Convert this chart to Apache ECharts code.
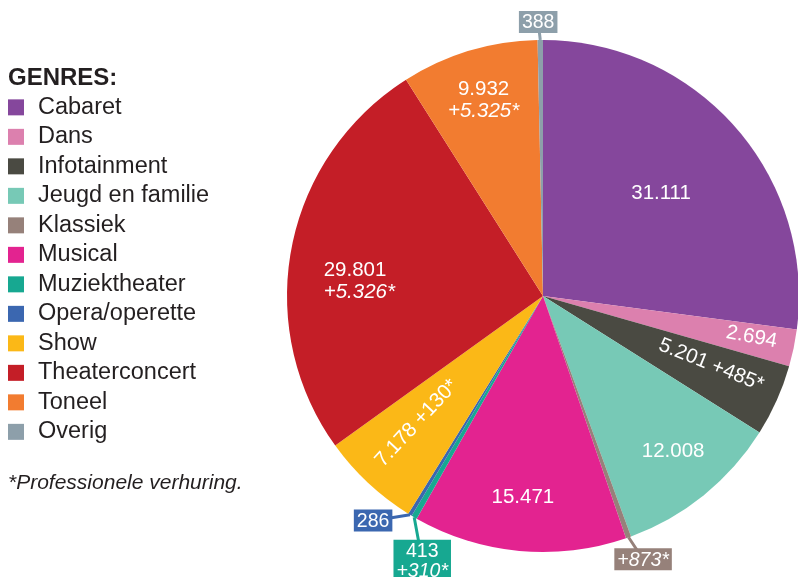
<!DOCTYPE html>
<html><head><meta charset="utf-8">
<script src="https://cdn.jsdelivr.net/npm/echarts@6/dist/echarts.min.js"></script>
<style>html,body{margin:0;padding:0;background:#fff}#c{width:798px;height:577px}</style>
</head><body><div id="c"></div>
<script>
// ---- data ----
const categories = ['Cabaret','Dans','Infotainment','Jeugd en familie','Klassiek','Musical','Muziektheater','Opera/operette','Show','Theaterconcert','Toneel','Overig'];
const visitors = [31111, 2694, 5201, 12008, 380, 15471, 413, 286, 7178, 29801, 9932, 388];
const rentals = [null, null, 485, null, 873, null, 310, null, 130, 5326, 5325, null];
const titleText = 'GENRES:';
const footnoteText = '*Professionele verhuring.';

// ---- styles ----
const colors = ['#85479c','#dc80ae','#4a4a42','#77c9b6','#96817a','#e32390','#17a891','#3b67b0','#fbb817','#c41e27','#f27c30','#8d9faa'];
const labelMode = ['value','value','inline','value','rental','value','stack','value','inline','stack','stack','value'];
const labelBoxed = [false,false,false,false,true,false,true,true,false,false,false,true];
const labelTextAlign = ['center','center','center','center','center','center','center','center','center','left','center','center'];
const labelRadius = [0.612,0.83,0.71,0.79,1.10,0.79,1.137,1.10,0.70,0.72,0.80,1.07];
const labelAngleShift = [0.15,-0.6,-1.8,-1.1,-1.3,0.4,-5.7,5.8,1.8,-6.3,-0.1,-0.4];
const labelRotate = [0,-11,-22,0,0,0,0,0,47,0,0,0];
const CX = 543, CY = 296, R = 256;
const FONT = "'Liberation Sans', Arial, Helvetica, sans-serif";

function fmt(v){ return String(v).replace(/\B(?=(\d{3})+(?!\d))/g, '.'); }

const total = visitors.reduce((a,b)=>a+b,0);
const midAngles = [];
let acc = 0;
visitors.forEach(v => { midAngles.push((acc + v/2) / total * 360); acc += v; });

function labelText(i){
  const m = labelMode[i];
  if (m === 'value') return '{v|' + fmt(visitors[i]) + '}';
  if (m === 'inline') return '{v|' + fmt(visitors[i]) + ' +' + fmt(rentals[i]) + '*}';
  if (m === 'stack') return '{v|' + fmt(visitors[i]) + '}\n{r|+' + fmt(rentals[i]) + '*}';
  return '{r|+' + fmt(rentals[i]) + '*}';
}

function richFor(size, align){
  return {
    v: { color: '#fff', fontSize: size, fontFamily: FONT, lineHeight: 22, align: align },
    r: { color: '#fff', fontSize: size, fontFamily: FONT, fontStyle: 'italic', lineHeight: 22, align: align }
  };
}

const data = categories.map((name, i) => {
  const item = { name: name, value: visitors[i], itemStyle: { color: colors[i] } };
  if (labelBoxed[i]) {
    item.label = {
      position: 'outside',
      formatter: labelText(i),
      backgroundColor: colors[i],
      padding: [2, 3, 0, 3],
      rich: {
        v: { color: '#fff', fontSize: 19.5, fontFamily: FONT, lineHeight: 20, align: 'center' },
        r: { color: '#fff', fontSize: 19.5, fontFamily: FONT, fontStyle: 'italic', lineHeight: 20, align: 'center' }
      }
    };
    item.labelLine = { show: true, lineStyle: { color: colors[i], width: 3 } };
  } else {
    item.label = { position: 'inside', formatter: labelText(i), rich: richFor(20.5, labelTextAlign[i]) };
    item.labelLine = { show: false };
  }
  return item;
});

const chart = echarts.init(document.getElementById('c'), null, { renderer: 'canvas' });
chart.setOption({
  animation: false,
  title: [
    { text: titleText, left: 8, top: 66, padding: 0,
      textStyle: { fontFamily: FONT, fontSize: 24, fontWeight: 'bold', color: '#231f20' } },
    { text: footnoteText, left: 8, top: 473, padding: 0,
      textStyle: { fontFamily: FONT, fontSize: 21, fontWeight: 'normal', fontStyle: 'italic', color: '#231f20' } }
  ],
  legend: {
    orient: 'vertical', left: 8, top: 92.6, padding: 0,
    itemWidth: 16, itemHeight: 16, itemGap: 0, icon: 'rect',
    selectedMode: false,
    data: categories,
    textStyle: { fontFamily: FONT, fontSize: 23.5, color: '#231f20', lineHeight: 29.5, padding: [0, 0, 0, 9] }
  },
  series: [{
    type: 'pie',
    center: [CX, CY],
    radius: R,
    startAngle: 90,
    clockwise: true,
    avoidLabelOverlap: false,
    silent: true,
    emphasis: { disabled: true },
    label: { show: true, color: '#fff', fontFamily: FONT },
    labelLayout: function (p) {
      const i = p.dataIndex;
      const a = (midAngles[i] + labelAngleShift[i]) * Math.PI / 180;
      const r = R * labelRadius[i];
      const x = CX + r * Math.sin(a), y = CY - r * Math.cos(a);
      const out = { x: x, y: y, align: 'center', verticalAlign: 'middle', rotate: labelRotate[i] };
      if (labelBoxed[i]) {
        const m = midAngles[i] * Math.PI / 180;
        const ex = CX + R * Math.sin(m), ey = CY - R * Math.cos(m);
        out.labelLinePoints = [[ex, ey], [(ex + x) / 2, (ey + y) / 2], [x, y]];
      }
      return out;
    },
    data: data
  }]
});
</script></body></html>
